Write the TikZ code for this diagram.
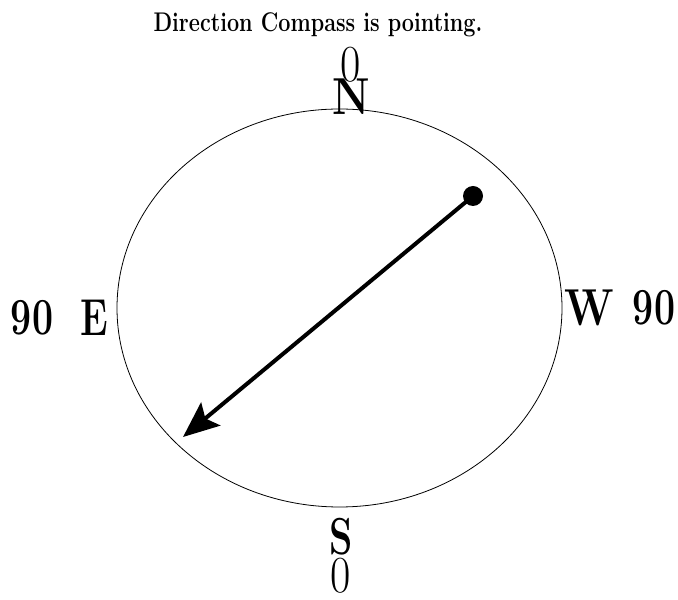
\documentclass[tikz,border=0pt]{standalone}
\usepackage{tikz}
\usetikzlibrary{arrows.meta}
\newcommand{\dirlbl}[2]{\scalebox{#1}[1]{\fontsize{52}{52}\selectfont #2}}

\begin{document}
\begin{tikzpicture}[x=1pt, y=1pt,
  dial/.style={draw, line width=0.8pt},
  lbl/.style={inner sep=0pt, anchor=center},
  needle/.style={-{Stealth[length=36pt, width=30pt, inset=7pt]}, line width=4pt},
  pivot/.style={circle, fill, inner sep=0pt, minimum size=20pt}]
\useasboundingbox (0,0) rectangle (678,600);
% title
\node[inner sep=0pt, anchor=base] (title) at (318,568) {\scalebox{0.8}[1]{\fontsize{27}{27}\selectfont\bfseries Direction Compass is pointing.}};
% dial
\draw[dial] (339.5,292) ellipse (222.5 and 199);
% north
\node[lbl] (n0) at (351,535) {\dirlbl{0.85}{0}};
\node[lbl] (n) at (351,503) {\dirlbl{0.82}{\bfseries N}};
% east
\node[lbl] (e) at (94,282) {\dirlbl{0.72}{\bfseries E}};
\node[lbl] (e90) at (32,282) {\dirlbl{0.72}{\bfseries 90}};
% west
\node[lbl] (w) at (589,292) {\dirlbl{0.82}{\bfseries W}};
\node[lbl] (w90) at (654,292) {\dirlbl{0.72}{\bfseries 90}};
% south
\node[lbl] (s) at (341,63) {\dirlbl{0.72}{\bfseries S}};
\node[lbl] (s0) at (341,24.5) {\dirlbl{0.85}{0}};
% needle
\node[pivot] (tail) at (473,404) {};
\coordinate (head) at (183,163);
\draw[needle] (tail.center) -- (head);
\end{tikzpicture}
\end{document}
